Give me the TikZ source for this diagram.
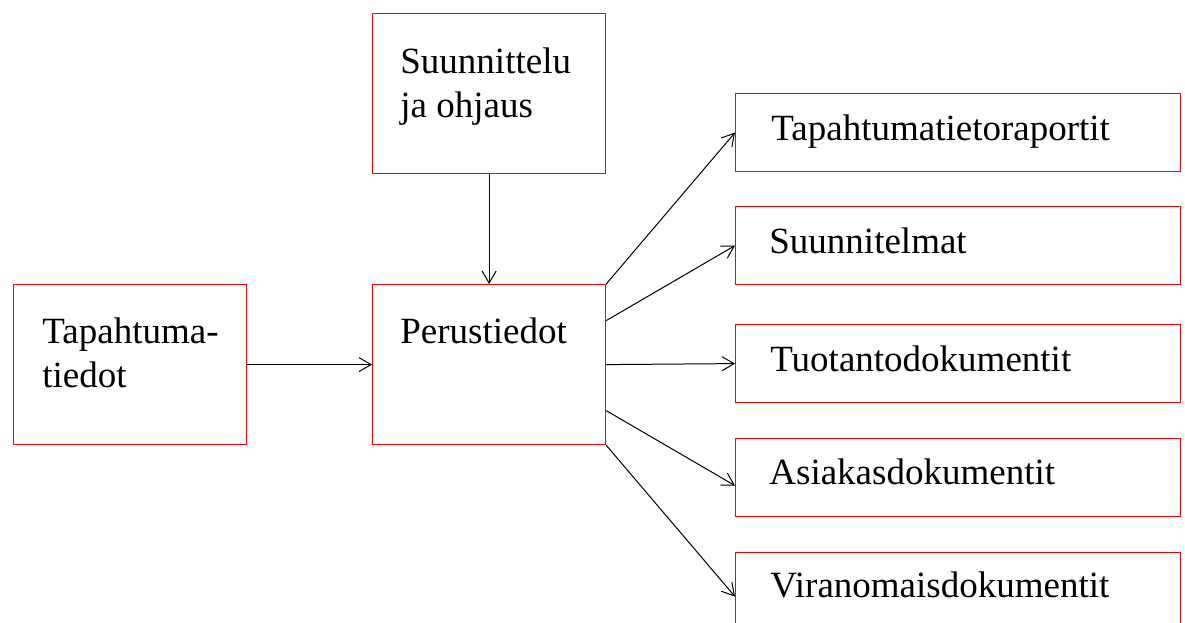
\documentclass[tikz,border=0pt]{standalone}
\usepackage{fontspec}
\setmainfont{Liberation Serif}
\usetikzlibrary{arrows.meta}

\begin{document}
\begin{tikzpicture}[x=0.5pt,y=-0.5pt,
	laatikko/.style={draw=red, line width=0.6pt, inner sep=0pt, anchor=north west},
	iso/.style={laatikko, minimum width=116.5pt, minimum height=80pt},
	pitka/.style={laatikko, minimum width=222.5pt, minimum height=39pt},
	teksti/.style={inner sep=0pt, anchor=base west, align=left, font=\fontsize{18.5}{22}\selectfont},
	nuoli/.style={line width=0.5pt, -{Straight Barb[length=6pt,width=7pt]}}]
	\clip (0,0) rectangle (1185,622);
	% vasen puoli
	\node[iso] (suunnittelu) at (372,13) {};
	\node[iso] (tapahtumat) at (13,284) {};
	\node[iso] (perus) at (372,284) {};
	\node[teksti] (suunnittelu-t) at ([shift={(28,104)}]suunnittelu.north west) {Suunnittelu\\ja ohjaus};
	\node[teksti] (tapahtumat-t) at ([shift={(29,103)}]tapahtumat.north west) {Tapahtuma-\\tiedot};
	\node[teksti] (perus-t) at ([shift={(28,59)}]perus.north west) {Perustiedot};
	% oikea puoli
	\node[pitka] (raportit) at (735,93) {};
	\node[pitka] (suunnitelmat) at (735,206) {};
	\node[pitka] (tuotanto) at (735,324) {};
	\node[pitka] (asiakas) at (735,438) {};
	\node[pitka] (viranomais) at (735,552) {};
	\node[teksti] (raportit-t) at ([shift={(36,47)}]raportit.north west) {Tapahtumatietoraportit};
	\node[teksti] (suunnitelmat-t) at ([shift={(34,47)}]suunnitelmat.north west) {Suunnitelmat};
	\node[teksti] (tuotanto-t) at ([shift={(35,47)}]tuotanto.north west) {Tuotantodokumentit};
	\node[teksti] (asiakas-t) at ([shift={(34,46)}]asiakas.north west) {Asiakasdokumentit};
	\node[teksti] (viranomais-t) at ([shift={(35,45)}]viranomais.north west) {Viranomaisdokumentit};
	% nuolet
	\draw[nuoli] (suunnittelu.south) -- (perus.north);
	\draw[nuoli] (tapahtumat.east) -- (perus.west);
	\draw[nuoli] (perus.north east) -- (raportit.west);
	\draw[nuoli] ([yshift=22pt]perus.east) -- (suunnitelmat.west);
	\draw[nuoli] (perus.east) -- (tuotanto.west);
	\draw[nuoli] ([yshift=-23pt]perus.east) -- ([yshift=-4pt]asiakas.west);
	\draw[nuoli] (perus.south east) -- ([yshift=-2.5pt]viranomais.west);
\end{tikzpicture}
\end{document}
